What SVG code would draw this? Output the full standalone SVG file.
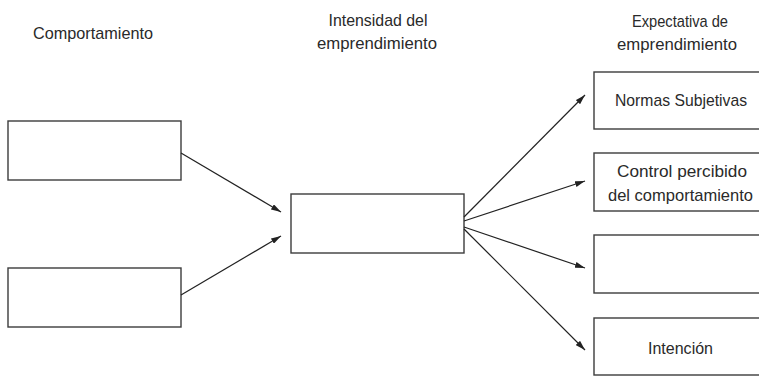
<svg xmlns="http://www.w3.org/2000/svg" width="759" height="377" viewBox="0 0 759 377">
<style>
.box{fill:#fff;stroke:#3c3c3c;stroke-width:1.4}
.t{font-family:"Liberation Sans",Arial,sans-serif;font-size:17px;fill:#2a2a2a;text-anchor:middle}
.c{stroke:#222;stroke-width:1.2;fill:none;marker-end:url(#ah)}
</style>
<defs>
<marker id="ah" viewBox="0 0 10 6" refX="10" refY="3" markerWidth="10" markerHeight="6" markerUnits="userSpaceOnUse" orient="auto">
<path d="M0,0 L10,3 L0,6 Z" fill="#222"/>
</marker>
</defs>
<g id="headers">
<text class="t" x="93" y="39" textLength="120" lengthAdjust="spacingAndGlyphs">Comportamiento</text>
<text class="t" x="378" y="26" textLength="99" lengthAdjust="spacingAndGlyphs">Intensidad del</text>
<text class="t" x="377" y="49" textLength="120" lengthAdjust="spacingAndGlyphs">emprendimiento</text>
<text class="t" x="680" y="27" textLength="96" lengthAdjust="spacingAndGlyphs">Expectativa de</text>
<text class="t" x="677" y="50" textLength="120" lengthAdjust="spacingAndGlyphs">emprendimiento</text>
</g>
<g id="left-top"><rect class="box" x="8" y="121" width="173" height="59"/></g>
<g id="left-bottom"><rect class="box" x="8" y="268" width="173" height="59"/></g>
<g id="center"><rect class="box" x="291" y="194" width="173" height="59"/></g>
<g id="normas"><rect class="box" x="594" y="72" width="175" height="57"/><text class="t" x="681" y="106" textLength="132" lengthAdjust="spacingAndGlyphs">Normas Subjetivas</text></g>
<g id="control"><rect class="box" x="594" y="153" width="175" height="58"/><text class="t" x="682" y="177" textLength="130" lengthAdjust="spacingAndGlyphs">Control percibido</text><text class="t" x="680.5" y="201" textLength="145" lengthAdjust="spacingAndGlyphs">del comportamiento</text></g>
<g id="empty"><rect class="box" x="594" y="235" width="175" height="58"/></g>
<g id="intencion"><rect class="box" x="594" y="318" width="175" height="57"/><text class="t" x="680.5" y="354" textLength="65" lengthAdjust="spacingAndGlyphs">Intención</text></g>
<g id="connectors">
<line class="c" x1="181" y1="153" x2="281" y2="212"/>
<line class="c" x1="181" y1="295" x2="281" y2="236"/>
<line class="c" x1="464" y1="217" x2="585" y2="95"/>
<line class="c" x1="464" y1="221" x2="585" y2="181"/>
<line class="c" x1="464" y1="227" x2="585" y2="268"/>
<line class="c" x1="464" y1="229" x2="585" y2="350"/>
</g>
</svg>
